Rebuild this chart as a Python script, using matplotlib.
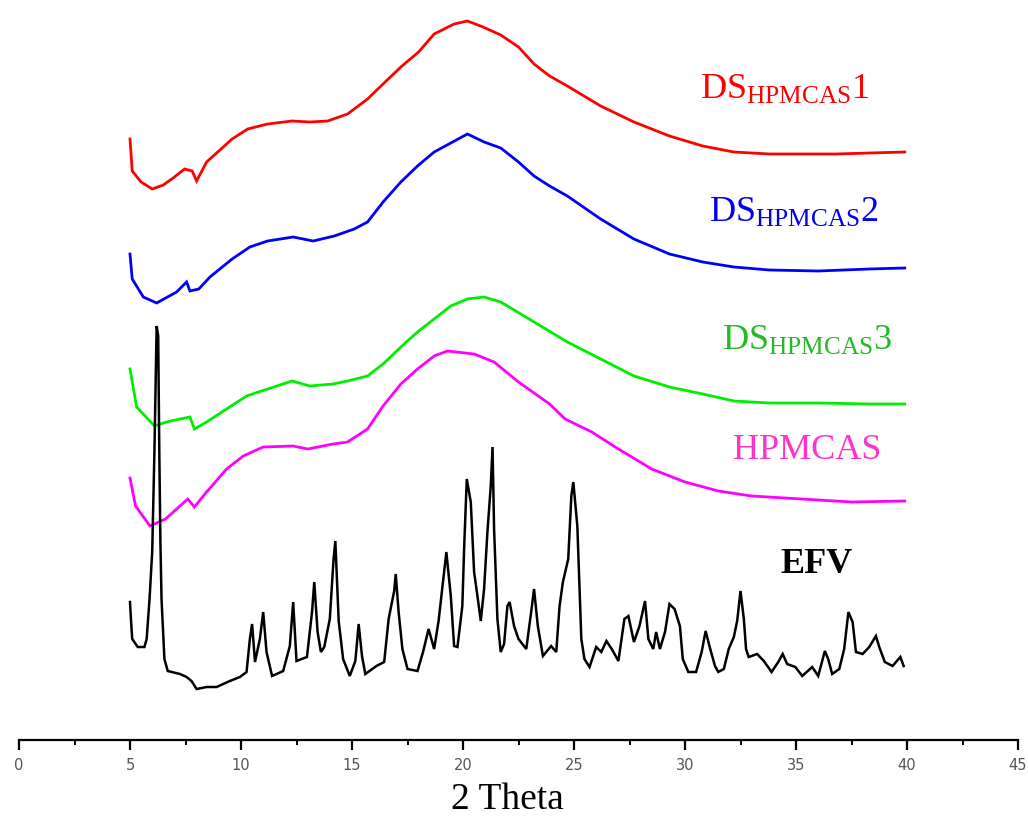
import matplotlib
matplotlib.use("Agg")
import matplotlib.pyplot as plt

# ---------------- data (intensity in arbitrary, offset units) ----------------
ds1_x = [5.0, 5.1, 5.5, 6.0, 6.5, 7.0, 7.46, 7.8, 8.0, 8.45, 9.0, 9.6, 10.3, 11.2, 12.3,
         13.1, 13.9, 14.8, 15.7, 16.4, 17.2, 18.0, 18.7, 19.6, 20.2, 20.9, 21.7, 22.5,
         23.2, 23.9, 24.7, 26.2, 27.7, 29.3, 30.8, 32.2, 33.8, 35.3, 36.8, 38.3, 39.9]
ds1_y = [601, 569, 558, 551, 555, 563, 571, 569, 559, 578, 589, 601, 611, 616, 619,
         618, 619, 626, 641, 656, 673, 688, 706, 716, 719, 713, 705, 693,
         676, 664, 654, 634, 618, 604, 594, 588, 586, 586, 586, 587, 588]

ds2_x = [5.0, 5.1, 5.6, 6.2, 7.1, 7.55, 7.7, 8.1, 8.6, 9.6, 10.4, 11.2, 12.35, 13.25,
         14.2, 15.1, 15.7, 16.4, 17.2, 17.95, 18.7, 19.45, 20.2, 20.95, 21.7, 22.5,
         23.2, 23.9, 24.7, 26.2, 27.7, 29.3, 30.8, 32.2, 33.8, 36.0, 38.3, 39.9]
ds2_y = [486, 461, 443, 437, 448, 458, 449, 451, 463, 481, 493, 499, 503, 499,
         504, 511, 518, 538, 558, 574, 588, 597, 606, 598, 592, 578,
         564, 554, 544, 521, 501, 486, 478, 473, 470, 469, 471, 472]

ds3_x = [5.0, 5.3, 6.1, 6.65, 7.25, 7.7, 7.9, 8.45, 9.35, 10.25, 11.2, 12.3, 13.1,
         14.15, 14.8, 15.7, 16.4, 17.2, 17.95, 18.7, 19.45, 20.2, 20.95, 21.7, 23.2,
         24.7, 26.2, 27.7, 29.3, 30.8, 32.2, 33.8, 36.0, 38.3, 39.9]
ds3_y = [371, 333, 314, 318, 321, 323, 311, 318, 331, 344, 351, 359, 354,
         356, 359, 364, 376, 393, 408, 421, 434, 441, 443, 438, 418,
         398, 381, 364, 353, 346, 339, 337, 337, 336, 336]

hp_x = [5.0, 5.25, 5.9, 6.6, 7.6, 7.9, 8.45, 9.35, 10.1, 11.0, 12.35, 13.0, 14.15,
        14.8, 15.7, 16.4, 17.2, 17.95, 18.7, 19.3, 20.5, 21.4, 22.5, 23.9, 24.6,
        25.8, 27.0, 28.5, 30.0, 31.5, 33.0, 34.5, 36.0, 37.5, 39.9]
hp_y = [262, 234, 214, 221, 241, 233, 248, 271, 284, 293, 294, 291, 296,
        298, 311, 334, 356, 371, 384, 389, 386, 378, 358, 336, 321,
        308, 291, 271, 258, 249, 244, 242, 240, 238, 239]

efv_x = [5.0, 5.05, 5.1, 5.35, 5.65, 5.75, 5.88, 6.0, 6.1, 6.2, 6.27, 6.32, 6.37, 6.42,
         6.55, 6.7, 7.25, 7.55, 7.77, 8.0, 8.45, 8.9, 9.5, 9.95, 10.25, 10.4, 10.5,
         10.63, 10.85, 11.0, 11.15, 11.4, 11.9, 12.2, 12.35, 12.5, 12.97, 13.2, 13.3,
         13.45, 13.6, 13.75, 14.0, 14.17, 14.25, 14.4, 14.6, 14.9, 15.15, 15.3, 15.45,
         15.6, 16.1, 16.45, 16.65, 16.9, 16.97, 17.1, 17.27, 17.5, 17.95, 18.2, 18.45,
         18.7, 18.9, 19.1, 19.25, 19.45, 19.6, 19.75, 19.97, 20.05, 20.17, 20.35, 20.5,
         20.65, 20.8, 20.95, 21.1, 21.25, 21.33, 21.4, 21.55, 21.7, 21.85, 22.0, 22.1,
         22.3, 22.5, 22.85, 23.07, 23.2, 23.37, 23.6, 23.97, 24.2, 24.35, 24.5, 24.74,
         24.88, 24.97, 25.15, 25.25, 25.33, 25.47, 25.7, 26.0, 26.23, 26.46, 26.7, 27.0,
         27.27, 27.45, 27.7, 27.95, 28.2, 28.35, 28.57, 28.7, 28.87, 29.1, 29.3, 29.53,
         29.77, 29.9, 30.15, 30.5, 30.75, 30.93, 31.1, 31.35, 31.5, 31.75, 31.97, 32.2,
         32.35, 32.5, 32.65, 32.75, 32.87, 33.25, 33.55, 33.9, 34.2, 34.4, 34.6, 34.97,
         35.28, 35.73, 36.0, 36.3, 36.45, 36.63, 36.95, 37.17, 37.36, 37.55, 37.7, 38.0,
         38.3, 38.6, 38.75, 39.0, 39.35, 39.7, 39.85]
efv_y = [138, 118, 101, 93, 93, 101, 141, 188, 288, 414, 404, 288, 198, 141,
         81, 69, 66, 63, 59, 51, 53, 53, 59, 63, 68, 101, 116,
         78, 101, 128, 88, 64, 69, 94, 138, 79, 83, 128, 158,
         108, 88, 93, 121, 181, 199, 119, 81, 64, 79, 116, 84,
         66, 74, 78, 121, 149, 166, 128, 91, 71, 69, 88, 111,
         91, 119, 158, 188, 144, 94, 93, 134, 191, 261, 238, 168,
         144, 119, 151, 208, 254, 293, 211, 121, 88, 96, 134, 138,
         114, 101, 91, 128, 151, 114, 84, 94, 88, 134, 158, 181,
         244, 258, 214, 151, 101, 81, 73, 93, 88, 99, 91, 79,
         121, 124, 98, 114, 139, 101, 91, 108, 91, 108, 136, 131,
         114, 81, 68, 68, 88, 109, 94, 74, 68, 71, 91, 103,
         119, 149, 121, 91, 83, 86, 79, 68, 78, 86, 76, 73,
         64, 73, 64, 89, 81, 66, 71, 91, 128, 118, 88, 86,
         93, 104, 93, 78, 74, 83, 74]

series = [
    (ds1_x, ds1_y, "#ff0000", 2.0),
    (ds2_x, ds2_y, "#0000ff", 2.0),
    (ds3_x, ds3_y, "#00ee00", 2.0),
    (hp_x, hp_y, "#ff00ff", 2.0),
    (efv_x, efv_y, "#000000", 1.8),
]

labels = [
    (r"DS$_{\mathrm{HPMCAS}}$1", 30.68, 642, "#ff0000", "normal"),
    (r"DS$_{\mathrm{HPMCAS}}$2", 31.10, 519, "#0000ee", "normal"),
    (r"DS$_{\mathrm{HPMCAS}}$3", 31.67, 391, "#22bb22", "normal"),
    ("HPMCAS", 32.16, 282, "#ff33cc", "normal"),
    ("EFV", 34.28, 168, "#000000", "bold"),
]

x_ticks = [0, 5, 10, 15, 20, 25, 30, 35, 40, 45]

# ---------------- plotting ----------------
plt.rcParams["mathtext.fontset"] = "custom"
plt.rcParams["mathtext.rm"] = "Liberation Serif"
plt.rcParams["mathtext.it"] = "Liberation Serif:italic"
plt.rcParams["mathtext.bf"] = "Liberation Serif:bold"

fig = plt.figure(figsize=(10.28, 8.2), dpi=100)
ax = fig.add_axes([19 / 1028, 79 / 820, 999 / 1028, 741 / 820])

for xs, ys, c, lw in series:
    ax.plot(xs, ys, color=c, lw=lw, solid_joinstyle="miter")

for txt, x, y, c, w in labels:
    ax.text(x, y, txt, color=c, fontsize=26, family="Liberation Serif",
            fontweight=w, ha="left", va="baseline")

ax.set_xlim(0, 45)
ax.set_ylim(0, 741)
ax.set_xticks(x_ticks)
ax.set_xticks([v + 2.5 for v in x_ticks[:-1]], minor=True)
ax.set_yticks([])
for s in ("left", "right", "top"):
    ax.spines[s].set_visible(False)
ax.spines["bottom"].set_linewidth(1.6)
ax.tick_params(axis="x", which="major", length=7, width=1.6, direction="out",
               labelsize=10.5, labelcolor="#555555", pad=5)
ax.tick_params(axis="x", which="minor", length=3.5, width=1.4, direction="out")

fig.text(507 / 1028, 3 / 820, "2 Theta", fontsize=27, family="Liberation Serif",
         ha="center", va="bottom")

fig.savefig("out.png", dpi=100)
